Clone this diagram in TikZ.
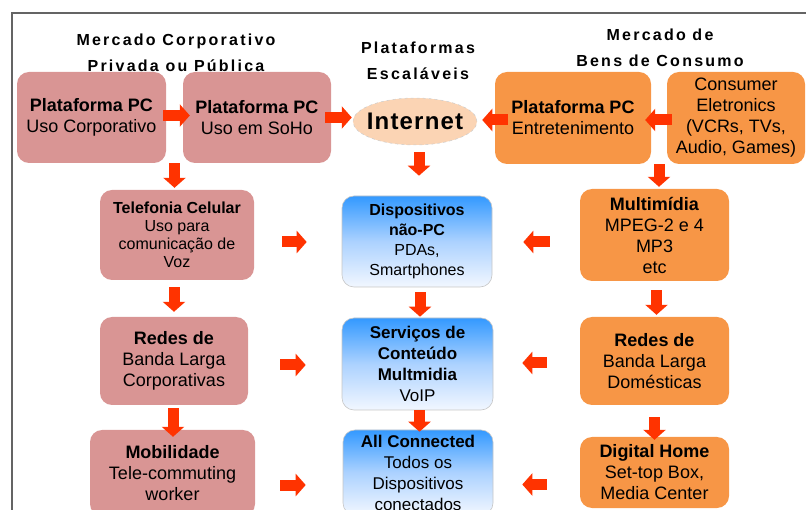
\documentclass[tikz,border=0pt]{standalone}
\usepackage{fontspec}
\setmainfont{Liberation Sans}
\newfontfamily\ttlfont[LetterSpace=14]{Liberation Sans}
\newfontfamily\netfont[LetterSpace=5]{Liberation Sans}
\usetikzlibrary{arrows.meta,shapes.geometric,calc}
\definecolor{pinkfill}{RGB}{217,149,148}
\definecolor{orangefill}{RGB}{247,150,70}
\definecolor{peach}{RGB}{251,212,180}
\definecolor{arrowred}{RGB}{255,51,0}
\definecolor{blueTop}{RGB}{51,153,255}
\definecolor{blueMid}{RGB}{172,210,255}
\definecolor{blueBot}{RGB}{242,247,255}
\definecolor{framegray}{RGB}{100,100,100}
\tikzset{
  box/.style={rectangle, rounded corners=12pt, align=center, inner sep=2pt,
    font=\fontsize{18}{21}\selectfont, text=black},
  pinkbox/.style={box, fill=pinkfill},
  orangebox/.style={box, fill=orangefill},
  bluebox/.style={box, draw=gray!45, line width=0.6pt, top color=blueTop,
    bottom color=blueBot, middle color=blueMid},
  ttl/.style={align=center, font=\ttlfont\bfseries\fontsize{16}{26}\selectfont},
  blk/.style={draw=arrowred, line width=11pt, -{Triangle[width=22pt,length=10pt]}}
}
\begin{document}
\begin{tikzpicture}[x=1pt,y=-1pt]
\useasboundingbox (0,0) rectangle (806,510);
\clip (0,0) rectangle (806,510);
% frame
\draw[framegray, line width=2pt] (12,13) rectangle (830,540);
% titles
\node[ttl] (t1) at (176,53) {Mercado Corporativo\\Privada ou Pública};
\node[ttl] (t2) at (418,61) {Plataformas\\Escaláveis};
\node[ttl] (t3) at (660,48) {Mercado de\\Bens de Consumo};
% row 1
\node[pinkbox, minimum width=149pt, minimum height=91pt] (b1) at (91.5,117.5) {\textbf{Plataforma PC}\\Uso Corporativo};
\node[pinkbox, minimum width=148pt, minimum height=91pt] (b2) at (257,117.5) {\textbf{Plataforma PC}\\Uso em SoHo};
\node[ellipse, fill=peach, draw=gray!40, dashed, line width=0.5pt, inner xsep=-8pt, inner ysep=0pt,
  minimum width=124pt, minimum height=47pt,
  font=\netfont\bfseries\fontsize{24}{26}\selectfont] (inet) at (415,121.5) {Internet};
\node[orangebox, minimum width=156pt, minimum height=92pt] (ent) at (573,118) {\textbf{Plataforma PC}\\Entretenimento};
\node[orangebox, minimum width=138pt, minimum height=92pt] (cons) at (736,118) {Consumer\\Eletronics\\(VCRs, TVs,\\Audio, Games)};
% row 2
\node[pinkbox, minimum width=154pt, minimum height=90pt, font=\fontsize{16}{18}\selectfont] (tel) at (177,235) {\textbf{Telefonia Celular}\\Uso para\\comunicação de\\Voz};
\node[bluebox, minimum width=150pt, minimum height=91pt, font=\fontsize{16}{20}\selectfont] (disp) at (417,241.5) {\textbf{Dispositivos}\\\textbf{não-PC}\\PDAs,\\Smartphones};
\node[orangebox, minimum width=149pt, minimum height=92pt] (mm) at (654.5,235) {\textbf{Multimídia}\\MPEG-2 e 4\\MP3\\etc};
% row 3
\node[pinkbox, minimum width=148pt, minimum height=88pt] (rc) at (174,361) {\textbf{Redes de}\\Banda Larga\\Corporativas};
\node[bluebox, minimum width=151pt, minimum height=92pt, font=\fontsize{17}{21}\selectfont] (serv) at (417.5,364) {\textbf{Serviços de}\\\textbf{Conteúdo}\\\textbf{Multmidia}\\VoIP};
\node[orangebox, minimum width=149pt, minimum height=88pt] (rd) at (654.5,361) {\textbf{Redes de}\\Banda Larga\\Domésticas};
% row 4
\node[pinkbox, minimum width=165pt, minimum height=86pt] (mob) at (172.5,473) {\textbf{Mobilidade}\\Tele-commuting\\worker};
\node[bluebox, minimum width=150pt, minimum height=85pt, font=\fontsize{17}{21}\selectfont] (ac) at (418,472.5) {\textbf{All Connected}\\Todos os\\Dispositivos\\conectados};
\node[orangebox, minimum width=149pt, minimum height=71pt] (dh) at (654.5,472.5) {\textbf{Digital Home}\\Set-top Box,\\Media Center};
% junctions
\coordinate (j1) at ($(b1.south east)!0.5!(b2.south west)$);
\coordinate (j2) at ($(ent.south east)!0.5!(cons.south west)$);
% row 1 arrows
\draw[blk, shorten <=-3pt, shorten >=-7pt] ([yshift=2pt]b1.east) -- ([yshift=2pt]b1.east -| b2.west);
\draw[blk, shorten <=-6pt, shorten >=1pt] (b2.east) -- (b2.east -| inet.west);
\draw[blk, shorten <=-13pt, shorten >=5pt] ([yshift=-2pt]ent.west) -- ([yshift=-2pt]ent.west -| inet.east);
\draw[blk, shorten <=-5pt, shorten >=-6pt] ([yshift=-2pt]cons.west) -- ([yshift=-2pt]cons.west -| ent.east);
% down arrows from row 1
\draw[blk, shorten >=2pt] (j1) -- (j1 |- tel.north);
\draw[blk, shorten <=7pt, shorten >=20pt] ([xshift=4pt]inet.south) -- ([xshift=4pt]inet.south |- disp.north);
\draw[blk, shorten >=2pt] (j2) -- (j2 |- mm.north);
% row 2 arrows
\draw[blk, shorten <=28pt, shorten >=35pt] ([yshift=-7pt]tel.east) -- ([yshift=-7pt]tel.east -| disp.west);
\draw[blk, shorten <=30pt, shorten >=31pt] ([yshift=-7pt]mm.west) -- ([yshift=-7pt]mm.west -| disp.east);
\draw[blk, shorten <=7pt, shorten >=5pt] ([xshift=-3pt]tel.south) -- ([xshift=-3pt]tel.south |- rc.north);
\draw[blk, shorten <=5pt, shorten >=1pt] ([xshift=3pt]disp.south) -- ([xshift=3pt]disp.south |- serv.north);
\draw[blk, shorten <=9pt, shorten >=2pt] ([xshift=2pt]mm.south) -- ([xshift=2pt]mm.south |- rd.north);
% row 3 arrows
\draw[blk, shorten <=32pt, shorten >=36pt] ([yshift=-4pt]rc.east) -- ([yshift=-4pt]rc.east -| serv.west);
\draw[blk, shorten <=33pt, shorten >=29pt] ([yshift=-2pt]rd.west) -- ([yshift=-2pt]rd.west -| serv.east);
\draw[blk, shorten <=3pt, shorten >=-7pt] ([xshift=-1pt]rc.south) -- ([xshift=-1pt]rc.south |- mob.north);
\draw[blk, shorten <=0pt, shorten >=-2pt] ([xshift=2pt]serv.south) -- ([xshift=2pt]serv.south |- ac.north);
\draw[blk, shorten <=12pt, shorten >=-3pt] (rd.south) -- (rd.south |- dh.north);
% row 4 arrows
\draw[blk, shorten <=25pt, shorten >=37pt] ([yshift=-12pt]mob.east) -- ([yshift=-12pt]mob.east -| ac.west);
\draw[blk, shorten <=33pt, shorten >=29pt] ([yshift=-12pt]dh.west) -- ([yshift=-12pt]dh.west -| ac.east);
\end{tikzpicture}
\end{document}
